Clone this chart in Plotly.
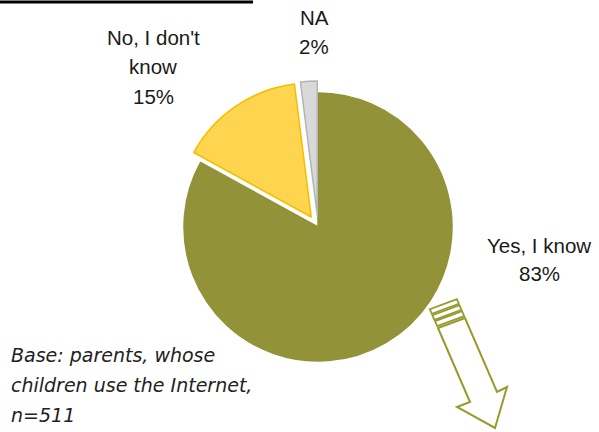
import plotly.graph_objects as go

# Survey answers (share of parents, %)
labels = ["Yes, I know", "No, I don't know", "NA"]
values = [83, 15, 2]
label_lines = [["Yes, I know"], ["No, I don't", "know"], ["NA"]]
colors = ["#929238", "#ffd44e", "#d9d9d9"]
edge_colors = ["#929238", "#f0bf00", "#b4b4b4"]
pulls = [0, 0.09, 0.09]

base_note = ["Base: parents, whose", "children use the Internet,", "n=511"]

W, H = 599, 432


def px(x):
    return x / W


def py(y):
    return 1 - y / H


# pie centre and radius in pixels
cx, cy, r = 318, 227, 134
half = r * (1 + max(pulls))

fig = go.Figure(
    go.Pie(
        labels=labels,
        values=values,
        sort=False,
        direction="clockwise",
        rotation=0,
        pull=pulls,
        textinfo="none",
        hoverinfo="label+percent",
        showlegend=False,
        marker=dict(colors=colors, line=dict(color=edge_colors, width=1.5)),
        domain=dict(x=[px(cx - half), px(cx + half)],
                    y=[py(cy + half), py(cy - half)]),
    )
)

annotations = []
label_font = dict(family="Liberation Sans, Arial, sans-serif", size=20.5, color="#1a1a1a")

# label anchors: (centre x, first line y, line step)
label_pos = [(539, 245, 28.5), (153, 37, 29.5), (314, 17, 30)]
total = sum(values)
for lines, v, (lx, ly, step) in zip(label_lines, values, label_pos):
    texts = lines + [f"{round(100 * v / total)}%"]
    for i, t in enumerate(texts):
        annotations.append(dict(
            x=px(lx), y=py(ly + i * step), xref="paper", yref="paper",
            text=t, showarrow=False, xanchor="center", yanchor="middle",
            font=label_font,
        ))

note_font = dict(family="DejaVu Sans, Verdana, sans-serif", size=19, color="#222222")
for i, t in enumerate(base_note):
    annotations.append(dict(
        x=px(9), y=py(355 + i * 30), xref="paper", yref="paper",
        text=f"<i>{t}</i>", showarrow=False, xanchor="left", yanchor="middle",
        font=note_font,
    ))


def path_from(points):
    s = "M " + " L ".join(f"{px(x):.5f},{py(y):.5f}" for x, y in points)
    return s + " Z"


arrow_color = "#979a2c"
shapes = [
    dict(type="line", xref="paper", yref="paper",
         x0=px(0), x1=px(253), y0=py(2), y1=py(2),
         line=dict(color="black", width=3)),
]

# outlined arrow pointing down-right from the big slice
shaft_tl, shaft_tr = (438, 328), (465, 318)
arrow_pts = [shaft_tl, (470, 402), (457, 407), (495, 428),
             (507, 387), (497, 392), shaft_tr]
shapes.append(dict(type="path", xref="paper", yref="paper",
                   path=path_from(arrow_pts), fillcolor="white",
                   line=dict(color=arrow_color, width=2)))

# striped tail of the arrow
ux, uy = 0.397, 0.918
for d0, d1 in [(2, 7.5), (9, 14), (15.5, 20.5)]:
    band = [
        (shaft_tl[0] - ux * d0, shaft_tl[1] - uy * d0),
        (shaft_tr[0] - ux * d0, shaft_tr[1] - uy * d0),
        (shaft_tr[0] - ux * d1, shaft_tr[1] - uy * d1),
        (shaft_tl[0] - ux * d1, shaft_tl[1] - uy * d1),
    ]
    shapes.append(dict(type="path", xref="paper", yref="paper",
                       path=path_from(band), fillcolor="white",
                       line=dict(color=arrow_color, width=1.8)))

fig.update_layout(
    width=W, height=H, autosize=False,
    margin=dict(l=0, r=0, t=0, b=0),
    paper_bgcolor="white", plot_bgcolor="white",
    annotations=annotations, shapes=shapes,
)

fig.write_html("out.html")
